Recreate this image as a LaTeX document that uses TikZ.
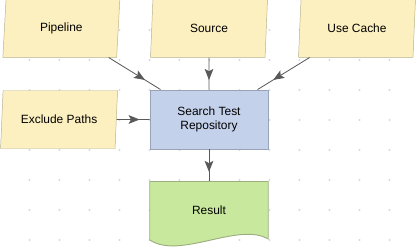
\documentclass[tikz,border=0pt]{standalone}
\usepackage{fontspec}
\setmainfont{Liberation Sans}
\usetikzlibrary{shapes.geometric, arrows.meta, positioning, backgrounds, decorations.markings}
\definecolor{InFill}{HTML}{FCF0C0}
\definecolor{InDraw}{HTML}{B8B08C}
\definecolor{TaskFill}{HTML}{C4D1EB}
\definecolor{TaskDraw}{HTML}{98A3B8}
\definecolor{OutFill}{HTML}{C8E89E}
\definecolor{OutDraw}{HTML}{9CAE80}
\definecolor{EdgeDark}{HTML}{3C3C3C}

\begin{document}
\begin{tikzpicture}[node distance=0.96cm and 0.99cm,
        inbox/.style={trapezium, trapezium left angle=74, trapezium right angle=106, trapezium stretches body=true, draw=InDraw, fill=InFill, minimum width=3.51cm, minimum height=1.74cm, inner sep=0pt, font=\fontsize{10.2}{12}\selectfont, align=center},
        task/.style={rectangle, draw=TaskDraw, fill=TaskFill, line width=0.8pt, minimum width=3.54cm, minimum height=1.77cm, font=\fontsize{10.2}{12}\selectfont, align=center},
        arrow/.style={draw=EdgeDark!85, line width=0.7pt, postaction={decorate}, decoration={markings, mark=at position 0.7 with {\arrow{Stealth[length=3.3mm, width=2.6mm, inset=0.7mm]}}}}
    ]
    \useasboundingbox (0,0) rectangle (12.54,-7.38);

    % Aufgabe in der Mitte
    \node[task] (search) at (6.27,-3.585) {Search Test\\Repository};

    % Eingaben
    \node[inbox, above=of search] (source) {Source};
    \node[inbox, left=of source] (pipeline) {Pipeline};
    \node[inbox, right=of source] (cache) {Use Cache};
    \node[inbox, left=of search] (exclude) {Exclude Paths};

    % Ausgabe
    \node[minimum width=3.54cm, minimum height=1.74cm, inner sep=0pt, font=\fontsize{10.2}{12}\selectfont, below=of search] (result) {Result};

    % Hintergrund: Punktraster und Dokumentform
    \begin{scope}[on background layer]
        \foreach \i in {0,...,12}
            \foreach \j in {1,...,8}
                \fill[gray!30] (0.885+0.9*\i,-0.9*\j) circle (0.032cm);
        \draw[draw=OutDraw, fill=OutFill, line width=0.8pt] (result.north west) -- (result.north east) -- ([yshift=0.03cm]result.south east)
            .. controls ([xshift=-0.9cm, yshift=0.55cm]result.south east) and ([xshift=0.9cm, yshift=-0.6cm]result.south west) .. (result.south west) -- cycle;
    \end{scope}

    % Verbindungen
    \draw[arrow] (pipeline) -- (search);
    \draw[arrow] (source) -- (search);
    \draw[arrow] (cache) -- (search);
    \draw[arrow] (exclude) -- (search);
    \draw[arrow] (search) -- (result);

\end{tikzpicture}
\end{document}
